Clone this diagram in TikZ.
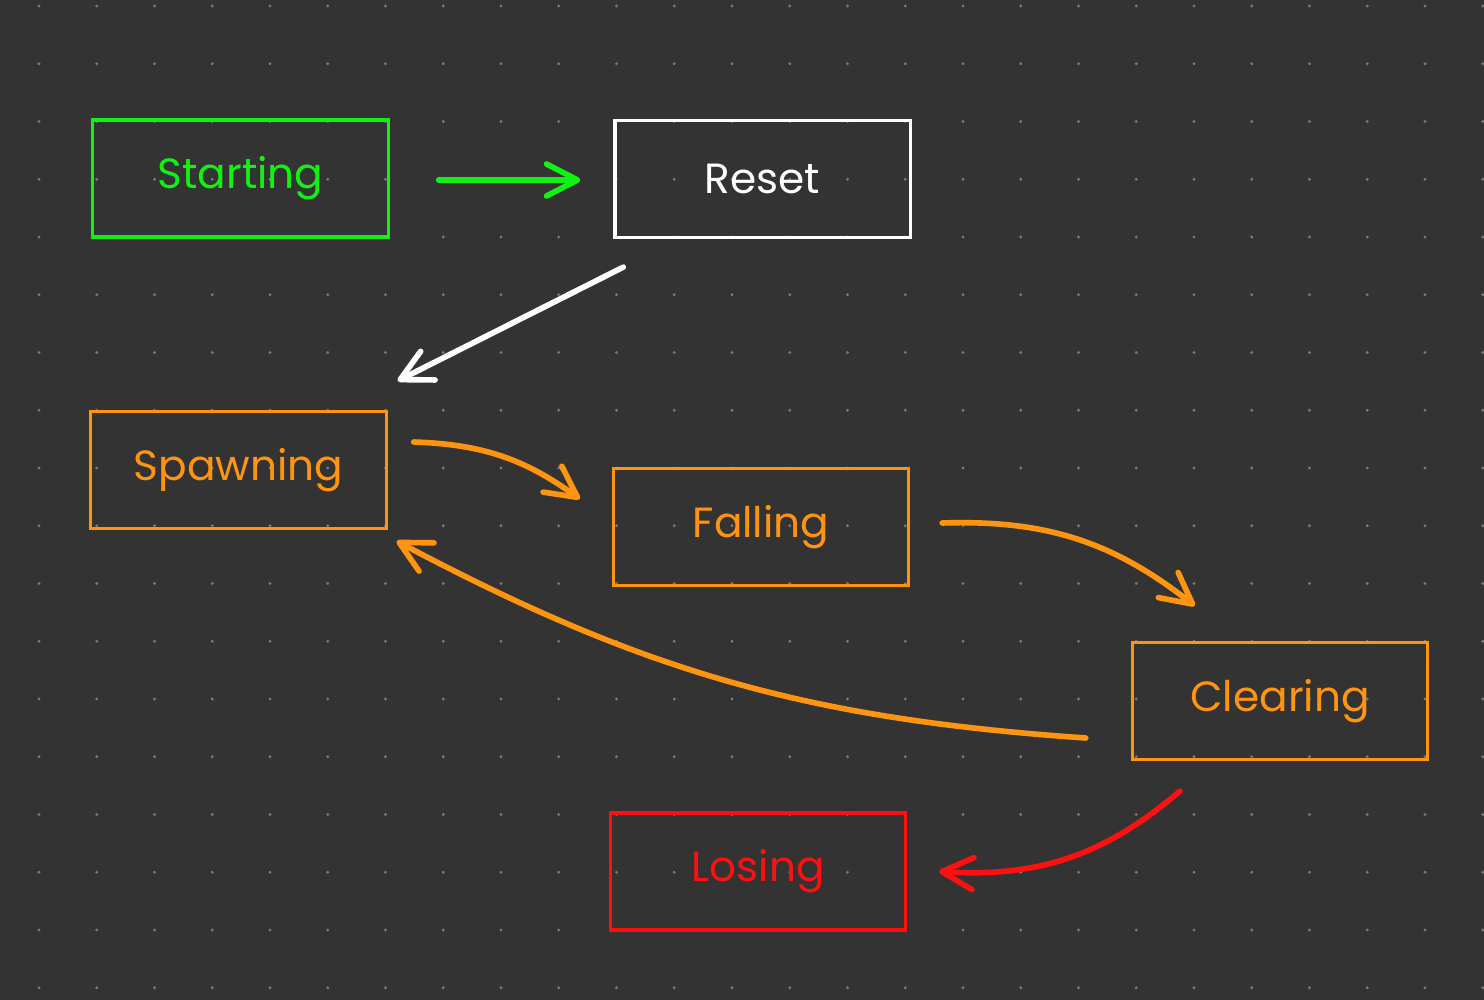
\documentclass[tikz,border=0pt]{standalone}
\usepackage{fontspec}
\setmainfont{Poppins}
\usetikzlibrary{arrows.meta}
\definecolor{bgcol}{HTML}{333333}
\definecolor{dotcol}{HTML}{787878}
\definecolor{grn}{HTML}{12F212}
\definecolor{orng}{HTML}{FF9410}
\definecolor{rd}{HTML}{FF1010}
\tikzset{state/.style = {draw, rectangle, line width=0.9pt, minimum width=2.95cm, minimum height=1.17cm, inner sep=0pt, font=\fontsize{12}{14}\selectfont}}
\tikzset{arr/.style = {line width=1.6pt, line cap=round, -{Straight Barb[length=0.31cm, width=0.32cm, round]}}}

\begin{document}
\begin{tikzpicture}[x=0.01cm, y=0.01cm]
\fill[bgcol] (0,0) rectangle (1484,-1000);
\useasboundingbox (0,0) rectangle (1484,-1000);
\foreach \i in {0,...,25}
  \foreach \j in {0,...,17}
    \fill[dotcol] (39+57.75*\i, -6-57.75*\j) circle (1.7);

\node[state, grn, text=grn] (start) at (240.5,-178.5) {Starting};
\node[state, white, text=white] (reset) at (762.5,-179) {Reset};
\node[state, orng, text=orng] (spawn) at (238.5,-470) {Spawning};
\node[state, orng, text=orng] (fall) at (761,-527) {Falling};
\node[state, orng, text=orng] (clear) at (1280,-701) {Clearing};
\node[state, rd, text=rd] (lose) at (758,-871.5) {Losing};

\path [arr, grn] ([shift={(49,-1.5)}]start.east) edge ([shift={(-33,-1)}]reset.west);
\path [arr, white] ([shift={(10,-28)}]reset.south west) edge ([shift={(10,29)}]spawn.north east);
\path [arr, orng] ([shift={(26,28)}]spawn.east) edge[bend left=17] ([shift={(-32,28)}]fall.west);
\path [arr, orng] ([shift={(32,4)}]fall.east) edge[bend left=20] ([shift={(64,35)}]clear.north west);
\path [arr, orng] ([shift={(-45,-37)}]clear.west) edge[bend left=12] ([shift={(9,-11)}]spawn.south east);
\path [arr, rd] ([shift={(-100,-30)}]clear.south) edge[bend left=22] ([shift={(32,0)}]lose.east);
\end{tikzpicture}
\end{document}
